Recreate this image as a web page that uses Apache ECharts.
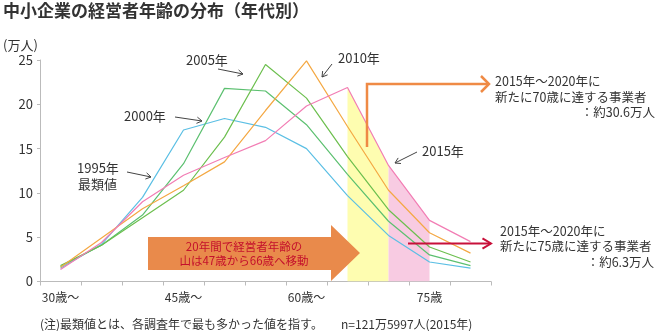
<!DOCTYPE html>
<html>
<head>
<meta charset="utf-8">
<script src="https://cdn.jsdelivr.net/npm/echarts@6/dist/echarts.min.js"></script>
<style>
  html, body { margin: 0; padding: 0; background: #fff; }
  #chart { width: 660px; height: 331px; }
</style>
</head>
<body>
<div id="chart"></div>
<script>
// Age groups (5-year bins) on the category axis
const ageGroups = ['30～34', '35～39', '40～44', '45～49', '50～54', '55～59',
                   '60～64', '65～69', '70～74', '75～79', '80～84'];
// Only some bins carry a visible label
const tickLabels = { '30～34': '30歳～', '45～49': '45歳～', '60～64': '60歳～', '75～79': '75歳' };

// Number of SME managers per age group (万人)
const y1995 = [1.5, 4.2, 9.5, 17.1, 18.4, 17.4, 15.0, 9.7, 5.2, 2.2, 1.5];
const y2000 = [1.7, 4.1, 7.5, 13.3, 21.8, 21.5, 17.7, 12.1, 6.8, 3.0, 1.8];
const y2005 = [1.8, 4.1, 7.2, 10.3, 16.3, 24.5, 20.7, 14.1, 8.1, 3.9, 2.2];
const y2010 = [1.6, 4.9, 8.2, 10.8, 13.5, 19.3, 24.9, 17.5, 10.3, 5.5, 3.2];
const y2015 = [1.35, 4.4, 9.0, 12.0, 14.0, 15.9, 19.8, 21.9, 13.1, 6.9, 4.5];

// Highlighted spans under the 2015 curve
const reach70 = y2015.map((v, i) => (i === 7 || i === 8) ? v : '-');
const reach75 = y2015.map((v, i) => (i === 8 || i === 9) ? v : '-');

const FONT = '"Noto Sans CJK JP", "Noto Sans", sans-serif';
const TXT = '#333';

function lineSeries(name, data, color) {
  return {
    name, type: 'line', data, symbol: 'none', z: 3,
    lineStyle: { color, width: 1.2 }, itemStyle: { color }
  };
}
function bandSeries(name, data, color) {
  return {
    name, type: 'line', data, symbol: 'none', z: 1, silent: true,
    lineStyle: { width: 0 }, areaStyle: { color, opacity: 1 }
  };
}

// Thin arrow with an open chevron head
function arrow(x1, y1, x2, y2, color, width, head) {
  const a = Math.atan2(y2 - y1, x2 - x1);
  const s = 0.55;
  const p1 = [x2 - head * Math.cos(a - s), y2 - head * Math.sin(a - s)];
  const p2 = [x2 - head * Math.cos(a + s), y2 - head * Math.sin(a + s)];
  return [
    { type: 'line', z: 100, shape: { x1, y1, x2, y2 }, style: { stroke: color, lineWidth: width } },
    { type: 'polyline', z: 100, shape: { points: [p1, [x2, y2], p2] },
      style: { stroke: color, lineWidth: width, fill: null } }
  ];
}
function text(x, y, str, opt) {
  return Object.assign({
    type: 'text', z: 100, x, y,
    style: Object.assign({ text: str, fill: TXT, font: '13px ' + FONT, textVerticalAlign: 'middle' }, opt || {})
  });
}

const gray = '#444';
const graphics = [
  text(3, 11, '中小企業の経営者年齢の分布（年代別）', { font: 'bold 17px ' + FONT }),
  text(3, 45, '(万人)', { font: '13px ' + FONT }),
  // series labels
  text(186, 60, '2005年'),
  ...arrow(218, 69, 243, 74, gray, 1, 6),
  text(338, 58, '2010年'),
  ...arrow(332, 64, 322, 77, gray, 1, 6),
  text(124, 116, '2000年'),
  ...arrow(175, 117, 202, 121, gray, 1, 6),
  text(77, 168, '1995年'),
  text(78, 184, '最類値'),
  ...arrow(127, 172, 151, 177, gray, 1, 6),
  text(422, 151, '2015年'),
  ...arrow(417, 152, 395, 163, gray, 1, 6),
  // 70-year arrow
  { type: 'polyline', z: 100, shape: { points: [[367, 147], [367, 84], [489, 84]] },
    style: { stroke: '#ef8a45', lineWidth: 2.5, fill: null } },
  { type: 'polyline', z: 100, shape: { points: [[481, 76], [489, 84], [481, 92]] },
    style: { stroke: '#ef8a45', lineWidth: 2.5, fill: null } },
  text(495, 81, '2015年～2020年に', { font: '12.5px ' + FONT }),
  text(495, 97, '新たに70歳に達する事業者', { font: '12.5px ' + FONT }),
  text(655, 112, '：約30.6万人', { font: '12.5px ' + FONT, textAlign: 'right' }),
  // 75-year arrow
  ...arrow(408, 243.5, 491, 243.5, '#c8103a', 2, 10),
  text(500, 231, '2015年～2020年に', { font: '12.5px ' + FONT }),
  text(500, 246, '新たに75歳に達する事業者', { font: '12.5px ' + FONT }),
  text(654, 262, '：約6.3万人', { font: '12.5px ' + FONT, textAlign: 'right' }),
  // peak shift block arrow
  { type: 'polygon', z: 90,
    shape: { points: [[148, 237], [331, 237], [331, 225], [360, 253], [331, 281], [331, 270], [148, 270]] },
    style: { fill: '#e98a4b' } },
  text(244, 247, '20年間で経営者年齢の', { font: '11.5px ' + FONT, fill: '#c4102c', textAlign: 'center' }),
  text(244, 261, '山は47歳から66歳へ移動', { font: '11.5px ' + FONT, fill: '#c4102c', textAlign: 'center' }),
  // footnote
  text(40, 324, '(注)最類値とは、各調査年で最も多かった値を指す。', { font: '12px ' + FONT }),
  text(341, 324, 'n=121万5997人(2015年)', { font: '12px ' + FONT })
];

const chart = echarts.init(document.getElementById('chart'), null, { renderer: 'canvas' });
chart.setOption({
  animation: false,
  backgroundColor: '#fff',
  textStyle: { fontFamily: FONT },
  grid: { left: 40, right: 169, top: 60, bottom: 49.5, containLabel: false },
  xAxis: {
    type: 'category', data: ageGroups, boundaryGap: true,
    axisLine: { lineStyle: { color: '#bbb', width: 1 } },
    axisTick: { show: true, interval: 0, length: 4, lineStyle: { color: '#bbb' } },
    axisLabel: {
      interval: 0, margin: 10, color: TXT, fontSize: 12, fontFamily: FONT,
      formatter: v => tickLabels[v] || ''
    }
  },
  yAxis: {
    type: 'value', min: 0, max: 25, interval: 5,
    axisLine: { show: true, lineStyle: { color: '#bbb', width: 1 } },
    axisTick: { show: true, length: 3, lineStyle: { color: '#bbb' } },
    splitLine: { show: false },
    axisLabel: { color: TXT, fontSize: 13, margin: 7, fontFamily: FONT }
  },
  series: [
    bandSeries('70歳到達', reach70, '#fefdb0'),
    bandSeries('75歳到達', reach75, '#f8cbe2'),
    lineSeries('1995年', y1995, '#5bbfe4'),
    lineSeries('2000年', y2000, '#5cc070'),
    lineSeries('2005年', y2005, '#6cbf4e'),
    lineSeries('2010年', y2010, '#f4a843'),
    lineSeries('2015年', y2015, '#f27db4')
  ],
  graphic: graphics
});
</script>
</body>
</html>
